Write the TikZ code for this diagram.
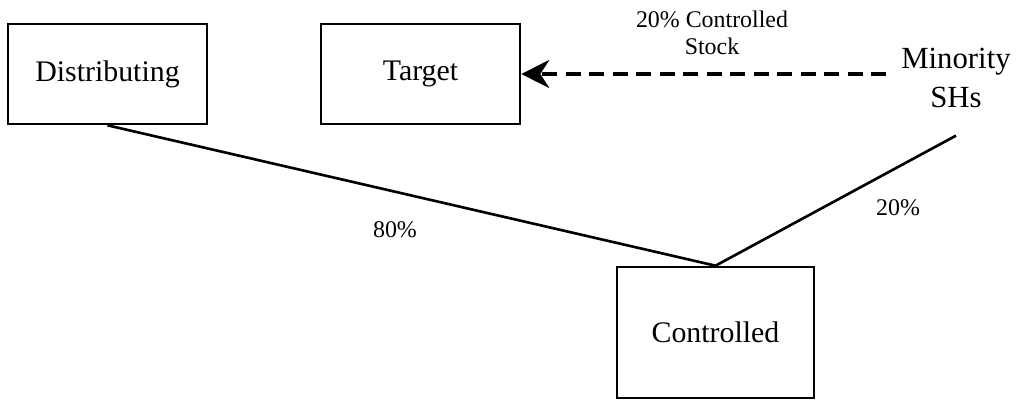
\documentclass[tikz,border=0pt]{standalone}
\usepackage{fontspec}
\setmainfont{Liberation Serif}
\usetikzlibrary{arrows.meta}

\begin{document}
\begin{tikzpicture}[
  x=0.02cm,y=-0.02cm,
  font=\fontsize{17}{21}\selectfont,
  entity/.style={draw,line width=1.5pt,minimum width=3.98cm,minimum height=2.0cm,align=center,inner sep=0pt},
  holder/.style={align=center,inner xsep=0.3cm,inner ysep=0.54cm,font=\fontsize{17.5}{22.7}\selectfont},
  own/.style={line width=1.5pt},
  ar/.style={-{Stealth[length=0.56cm,width=0.56cm,inset=0.18cm]},line width=1.9pt,dash pattern=on 0.3cm off 0.17cm},
  lbl/.style={font=\fontsize{13.6}{15.6}\selectfont,align=center}
]
\useasboundingbox (0,0) rectangle (1018,400);
\node[entity] (dist) at (107.5,74) {Distributing};
\node[entity] (target) at (420.5,74) {Target};
\node[entity,minimum width=3.94cm,minimum height=2.62cm] (ctrl) at (715.5,332.5) {Controlled};
\node[holder] (minority) at (956,78) {Minority\\SHs};

\draw[own] (dist.south) -- (ctrl.north);
\draw[own] (ctrl.north) -- (minority.south);
\draw[ar] (minority.west |- target.east) -- (target.east);
\node[lbl] (stock) at (712,33) {20\% Controlled\\Stock};
\node[lbl] (pctdist) at (395,230) {80\%};
\node[lbl] (pctmin) at (898,208) {20\%};
\end{tikzpicture}
\end{document}
